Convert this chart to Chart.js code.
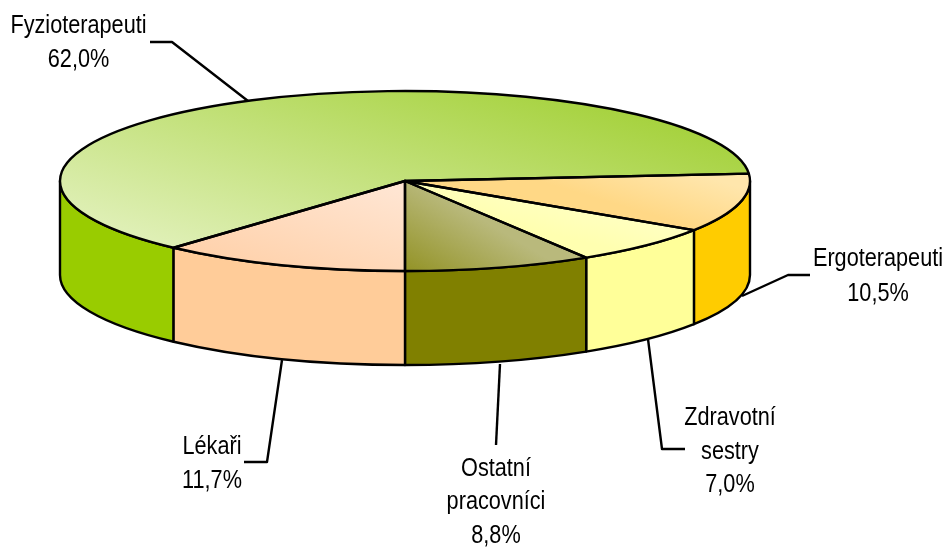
<!DOCTYPE html>
<html><head><meta charset="utf-8">
<style>html,body{margin:0;padding:0;background:#fff}canvas{display:block}</style>
<script src="https://cdn.jsdelivr.net/npm/chart.js@4"></script>
</head><body><canvas id="c" width="947" height="547"></canvas>
<script>
const categories = ['Fyzioterapeuti','Ergoterapeuti','Zdravotní sestry','Ostatní pracovníci','Lékaři'];
const shares = [62.0,10.5,7.0,8.8,11.7];
const sideColors = ['#99cc00','#ffcc00','#ffff99','#808000','#ffcc99'];
const topStops = [['#e0f0b8','#a6d23e'],['#ffd886','#ffe6ac'],['#ffffb0','#ffffd0'],['#949428','#b9b97c'],['#ffd2ac','#ffe5d2']];
const topAxes = [[165,250,246,-10],[695,228,710,178],[640,255,655,190],[408,270,450,200],[185,248,219,136]];
const startRotation = 222.12;
const projection = {cx:405,cy:181,rx:345,ry:90,depth:94};
const labelCenters = [[78.5,[33,67]],[878,[266,301]],[730,[425,459,492]],[496,[476,509,543]],[212,[454,488]]];
const leaders = [[[150,42],[172,42],[248,101]],[[810,275],[788,275],[742,296]],[[685,449],[662,449],[648,339]],[[496,445],[500,364]],[[244,462],[267,462],[282,360]]];
const textSqueeze = 0.867;

function topFill(c){
  const chart=c.chart;
  if(!chart.chartArea||c.dataIndex===undefined) return sideColors[c.dataIndex||0];
  const a=chart.chartArea,R=Math.min(a.right-a.left,a.bottom-a.top)/2,P=projection;
  const kx=R/P.rx,ky=R/P.ry,mx=(a.left+a.right)/2,my=(a.top+a.bottom)/2;
  const s=topAxes[c.dataIndex];
  // gradient given on screen, converted so it stays perpendicular after the flattening transform
  const dx=s[2]-s[0],dy=s[3]-s[1],d2=dx*dx+dy*dy;
  const gx=dx/kx/d2,gy=dy/ky/d2,g2=gx*gx+gy*gy;
  const x0=mx+(s[0]-P.cx)*kx,y0=my+(s[1]-P.cy)*ky;
  const g=chart.ctx.createLinearGradient(x0,y0,x0+gx/g2,y0+gy/g2);
  g.addColorStop(0,topStops[c.dataIndex][0]);g.addColorStop(1,topStops[c.dataIndex][1]);
  return g;
}
const TAU=Math.PI*2;
const pie3d={
  id:'pie3d',
  beforeDatasetsDraw(chart){
    const ctx=chart.ctx,P=projection,arcs=chart.getDatasetMeta(0).data;
    ctx.save();
    ctx.lineWidth=2.4;ctx.strokeStyle='#000';ctx.lineJoin='round';
    leaders.forEach(l=>{ctx.beginPath();l.forEach((p,i)=>i?ctx.lineTo(p[0],p[1]):ctx.moveTo(p[0],p[1]));ctx.stroke();});
    arcs.forEach((el,i)=>{
      [-TAU,0,TAU].forEach(k=>{
        const a=Math.max(el.startAngle+k,0),b=Math.min(el.endAngle+k,Math.PI);
        if(b<=a) return;
        ctx.beginPath();
        ctx.ellipse(P.cx,P.cy,P.rx,P.ry,0,a,b);
        ctx.ellipse(P.cx,P.cy+P.depth,P.rx,P.ry,0,b,a,true);
        ctx.closePath();
        ctx.fillStyle=sideColors[i];ctx.fill();ctx.stroke();
      });
    });
    ctx.restore();
    const el=arcs[0],R=el.outerRadius;
    ctx.save();
    ctx.translate(P.cx,P.cy);ctx.scale(P.rx/R,P.ry/R);ctx.translate(-el.x,-el.y);
  },
  afterDatasetsDraw(chart){
    const ctx=chart.ctx,P=projection,arcs=chart.getDatasetMeta(0).data;
    ctx.restore();
    ctx.save();
    ctx.lineWidth=2.4;ctx.strokeStyle='#000';ctx.lineJoin='round';
    arcs.forEach(el=>{
      ctx.beginPath();ctx.moveTo(P.cx,P.cy);
      ctx.ellipse(P.cx,P.cy,P.rx,P.ry,0,el.startAngle,el.endAngle);
      ctx.closePath();ctx.stroke();
    });
    ctx.fillStyle='#000';ctx.textAlign='center';ctx.textBaseline='alphabetic';
    ctx.font='25px "Liberation Sans",Arial,sans-serif';
    categories.forEach((name,i)=>{
      const lines=name.split(' ').concat(shares[i].toFixed(1).replace('.',',')+'%');
      lines.forEach((t,j)=>{
        ctx.save();
        ctx.translate(labelCenters[i][0],labelCenters[i][1][j]);
        ctx.scale(textSqueeze,1);
        ctx.fillText(t,0,0);
        ctx.restore();
      });
    });
    ctx.restore();
  }
};
new Chart(document.getElementById('c'),{
  type:'pie',
  data:{labels:categories,datasets:[{data:shares,backgroundColor:topFill,borderWidth:0,hoverOffset:0}]},
  options:{responsive:false,animation:false,rotation:startRotation,
    layout:{padding:0},
    plugins:{legend:{display:false},tooltip:{enabled:false}}},
  plugins:[pie3d]
});
</script></body></html>
